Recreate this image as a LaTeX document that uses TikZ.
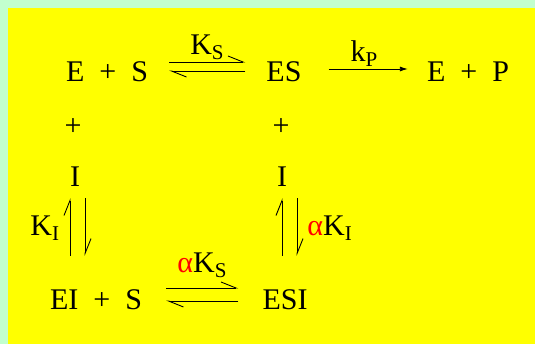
\documentclass[tikz,border=0pt]{standalone}
\usepackage{fontspec}
\setmainfont{Liberation Serif}
\usetikzlibrary{arrows.meta, positioning}
\definecolor{mint}{RGB}{194,255,206}
\definecolor{lemon}{RGB}{255,255,0}
\newcommand{\pl}{\hspace{0.5em}+\hspace{0.5em}}
\tikzset{
  sp/.style={font=\fontsize{30}{34}\selectfont, inner sep=0pt, anchor=base},
  lbl/.style={font=\fontsize{30}{34}\selectfont, inner sep=2pt},
  harp/.style={-{Straight Barb[left, length=15pt, width=12pt]}, line width=0.9pt},
  arr/.style={-{Latex[length=8pt, width=5pt]}, line width=0.9pt},
}

\begin{document}
\begin{tikzpicture}[x=1pt, y=-1pt]
    \fill[mint] (0,0) rectangle (535,344);
    \fill[lemon] (8,8) rectangle (535,344);
    \useasboundingbox (0,0) rectangle (535,344);
    % species
    \node[sp] (es) at (107,82) {E\pl S};
    \node[sp] (cplx) at (284,82) {ES};
    \node[sp] (ep) at (468,82) {E\pl P};
    \node[sp] (plusL) at (73,136) {+};
    \node[sp] (plusR) at (281,136) {+};
    \node[sp] (iL) at (75,187) {I};
    \node[sp] (iR) at (282,187) {I};
    \node[sp] (eis) at (96,310) {EI\pl S};
    \node[sp] (esi) at (285,310) {ESI};
    % top row
    \draw[harp, shorten <=21pt, shorten >=21pt] ([yshift=20pt]es.base east) -- node[lbl, above] {K\textsubscript{S}} ([yshift=20pt]cplx.base west);
    \draw[harp, shorten <=21pt, shorten >=21pt] ([yshift=11pt]cplx.base west) -- ([yshift=11pt]es.base east);
    \draw[arr, shorten <=27pt, shorten >=19pt] ([yshift=13pt]cplx.base east) -- node[lbl, above] {k\textsubscript{P}} ([yshift=13pt]ep.base west);
    % bottom row
    \draw[harp, shorten <=24pt, shorten >=24pt] ([yshift=22pt]eis.base east) -- node[lbl, above=8pt] {\textcolor{red}{α}K\textsubscript{S}} ([yshift=22pt]esi.base west);
    \draw[harp, shorten <=24pt, shorten >=24pt] ([yshift=9pt]esi.base west) -- ([yshift=9pt]eis.base east);
    % inhibitor steps
    \draw[harp, shorten <=34pt, shorten >=11pt] ([xshift=-5pt]iL.south |- eis.north) -- node[lbl, left=8pt, pos=0.6] {K\textsubscript{I}} ([xshift=-5pt]iL.south);
    \draw[harp, shorten <=11pt, shorten >=34pt] ([xshift=10pt]iL.south) -- ([xshift=10pt]iL.south |- eis.north);
    \draw[harp, shorten <=34pt, shorten >=11pt] ([xshift=0pt]iR.south |- esi.north) -- ([xshift=0pt]iR.south);
    \draw[harp, shorten <=11pt, shorten >=34pt] ([xshift=15pt]iR.south) -- node[lbl, right=8pt, pos=0.4] {\textcolor{red}{α}K\textsubscript{I}} ([xshift=15pt]iR.south |- esi.north);
  \end{tikzpicture}
\end{document}
